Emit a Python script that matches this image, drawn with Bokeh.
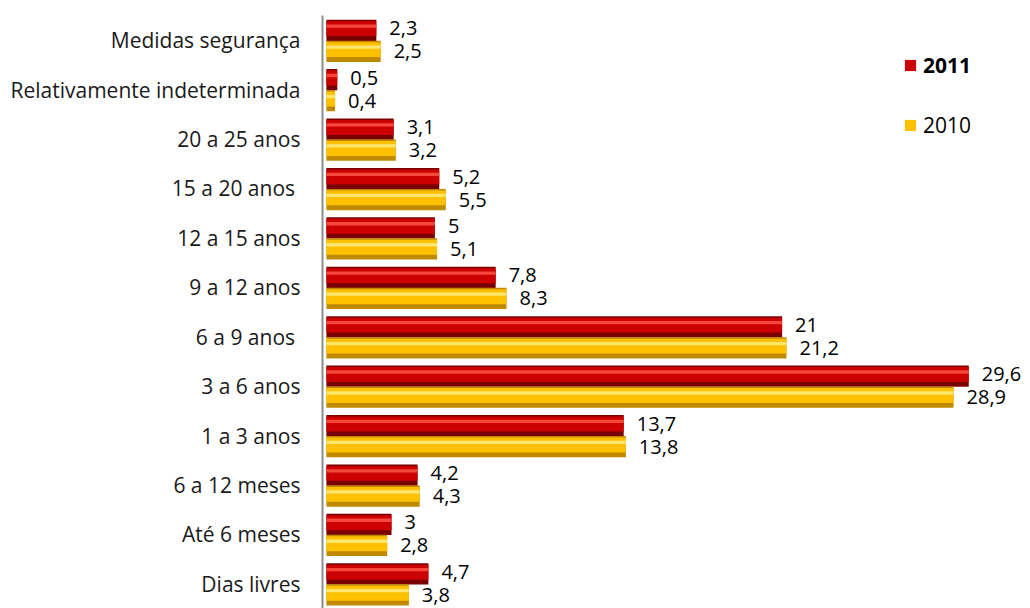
from bokeh.plotting import figure
from bokeh.models import ColumnDataSource, FactorRange, Legend, LegendItem, Range1d
from bokeh.transform import dodge
from bokeh.core.properties import value
from bokeh.embed import file_html
from bokeh.resources import INLINE

categories = ["Dias livres", "Até 6 meses", "6 a 12 meses", "1 a 3 anos", "3 a 6 anos",
              "6 a 9 anos ", "9 a 12 anos", "12 a 15 anos", "15 a 20 anos ", "20 a 25 anos",
              "Relativamente indeterminada", "Medidas segurança"]
values_2011 = [4.7, 3, 4.2, 13.7, 29.6, 21, 7.8, 5, 5.2, 3.1, 0.5, 2.3]
values_2010 = [3.8, 2.8, 4.3, 13.8, 28.9, 21.2, 8.3, 5.1, 5.5, 3.2, 0.4, 2.5]
series_names = ["2011", "2010"]


def fmt(v):
    return ("%g" % v).replace(".", ",")


src = ColumnDataSource(dict(
    cat=categories,
    v2011=values_2011,
    v2010=values_2010,
    l2011=[fmt(v) for v in values_2011],
    l2010=[fmt(v) for v in values_2010],
))

FONT = "Open Sans"

p = figure(width=1024, height=608, output_backend="svg", toolbar_location=None,
           y_range=FactorRange(*categories), x_range=Range1d(-0.18, 32.17),
           min_border_left=322, min_border_right=0, min_border_top=15, min_border_bottom=0)

H = 0.43
off_r = 0.2
off_y = -0.225

styles = {
    "2011": dict(dark="#7a0000", main="#cc0000", light="#ff5a4a", off=off_r, col="v2011", lab="l2011", yo=-2),
    "2010": dict(dark="#c08a00", main="#ffc000", light="#fff08a", off=off_y, col="v2010", lab="l2010", yo=0),
}

main_renderers = {}
for name in series_names:
    s = styles[name]
    y = dodge("cat", s["off"], range=p.y_range)
    p.hbar(y=y, left=0, right=s["col"], height=H, source=src,
           fill_color=s["dark"], line_color=None)
    r = p.hbar(y=dodge("cat", s["off"] + H * 0.08, range=p.y_range), left=0, right=s["col"],
               height=H * 0.7, source=src, fill_color=s["main"], line_color=None)
    p.hbar(y=dodge("cat", s["off"] + H * 0.2, range=p.y_range), left=0, right=s["col"],
           height=H * 0.16, source=src, fill_color=s["light"], line_color=None, fill_alpha=0.8)
    main_renderers[name] = r
    p.text(x=s["col"], y=y, text=s["lab"], source=src, x_offset=13, y_offset=s["yo"],
           text_baseline="middle", text_align="left", text_font=value(FONT),
           text_font_size="20px", text_color="#000000")

p.xaxis.visible = False
p.xgrid.visible = False
p.ygrid.visible = False
p.outline_line_color = None

ax = p.yaxis[0]
ax.axis_line_color = "#8c8c8c"
ax.axis_line_width = 2
ax.major_tick_out = 0
ax.major_tick_in = 0
ax.major_label_standoff = 22
ax.major_label_text_font = FONT
ax.major_label_text_font_size = "21px"
ax.major_label_text_color = "#1a1a1a"

common = dict(glyph_width=14, glyph_height=14, label_height=14, label_standoff=6,
              padding=0, margin=0, border_line_color=None, background_fill_alpha=0,
              label_text_font=FONT, label_text_font_size="21px", label_text_color="#000000")
leg1 = Legend(items=[LegendItem(label=series_names[0], renderers=[main_renderers["2011"]])],
              location=(581, 529), label_text_font_style="bold", **common)
leg2 = Legend(items=[LegendItem(label=series_names[1], renderers=[main_renderers["2010"]])],
              location=(581, 469), **common)
p.add_layout(leg1)
p.add_layout(leg2)

open("out.html", "w").write(file_html(p, INLINE))
